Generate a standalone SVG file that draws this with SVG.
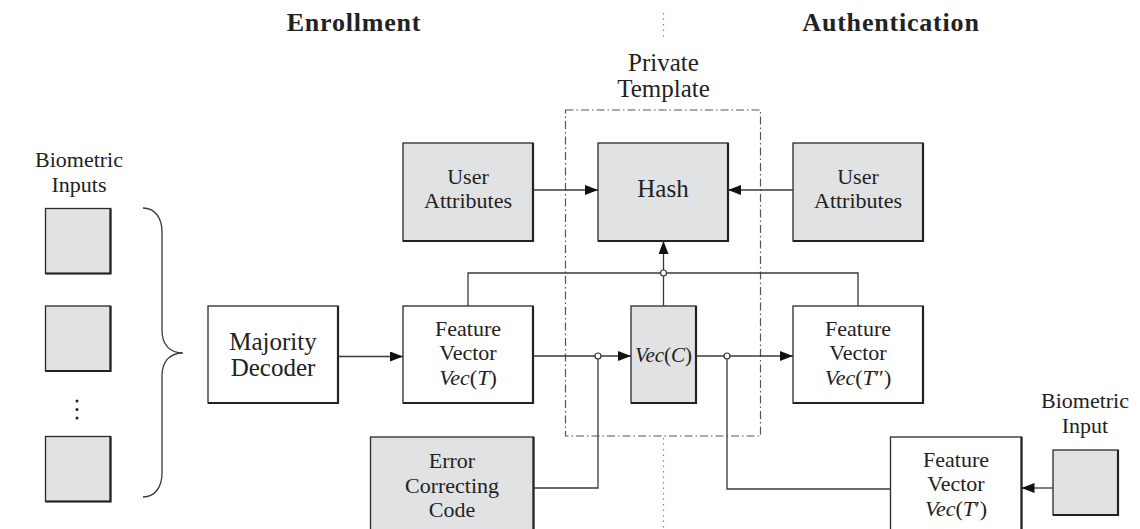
<svg xmlns="http://www.w3.org/2000/svg" width="1140" height="529" viewBox="0 0 1140 529">
<defs>
<marker id="arr" markerUnits="userSpaceOnUse" markerWidth="14" markerHeight="11" refX="13" refY="5" orient="auto"><path d="M0,0 L13,5 L0,10 z" fill="#111"/></marker>
</defs>
<style>
text {font-family:"Liberation Serif","DejaVu Serif",serif; fill:#222; text-anchor:middle}
.h {font-weight:bold; font-size:26px; letter-spacing:0.8px}
.t {font-size:22px}
.big {font-size:25px}
.hash {font-size:25px}
.box {stroke:#2a2a2a; stroke-width:1.3}
.sh {fill:none; stroke:#222; stroke-width:2.2}
.g {fill:#e1e2e4}
.w {fill:#fff}
.ln {stroke:#3a3a3a; stroke-width:1.3; fill:none}
.i {font-style:italic}
.jn {fill:#fff; stroke:#333; stroke-width:1.2}
</style>
<rect width="1140" height="529" fill="#fff"/>

<g id="headings">
<text class="h" x="354" y="31">Enrollment</text>
<text class="h" x="891" y="31">Authentication</text>
</g>

<g id="divider">
<line x1="663.5" y1="13" x2="663.5" y2="40" stroke="#888" stroke-width="1.2" stroke-dasharray="1.5,4"/>
<line x1="663.5" y1="438" x2="663.5" y2="529" stroke="#888" stroke-width="1.2" stroke-dasharray="1.5,4"/>
</g>

<g id="private-template">
<rect x="565.5" y="110" width="195" height="326" fill="none" stroke="#555" stroke-width="1.2" stroke-dasharray="8,3,1.5,3"/>
<text style="font-size:25px" x="663.5" y="71">Private</text>
<text style="font-size:25px" x="663.5" y="97">Template</text>
</g>

<g id="biometric-inputs">
<text class="t" x="79" y="167">Biometric</text>
<text class="t" x="79" y="192">Inputs</text>
<rect class="box g" x="45.5" y="208.5" width="65" height="65"/>
<path class="sh" d="M110.5,208.5 V273.5 H45.5"/>
<rect class="box g" x="45.5" y="306" width="65" height="65"/>
<path class="sh" d="M110.5,306 V371 H45.5"/>
<rect class="box g" x="45.5" y="436.5" width="65" height="65"/>
<path class="sh" d="M110.5,436.5 V501.5 H45.5"/>
<circle cx="77" cy="401" r="1.5" fill="#222"/>
<circle cx="77" cy="409.5" r="1.5" fill="#222"/>
<circle cx="77" cy="418" r="1.5" fill="#222"/>
<path class="ln" d="M143,208 C155,208 162,218 162,232 L162,330 C162,345 170,353 183,353 C170,353 162,361 162,376 L162,473 C162,487 155,497 143,497"/>
</g>

<g id="majority-decoder">
<rect class="box w" x="208" y="306" width="130" height="97"/>
<path class="sh" d="M338,306 V403 H208"/>
<text class="big" x="273" y="350">Majority</text>
<text class="big" x="273" y="376">Decoder</text>
</g>

<g id="user-attributes-enroll">
<rect class="box g" x="403" y="143" width="130" height="98"/>
<path class="sh" d="M533,143 V241 H403"/>
<text class="t" x="468" y="184">User</text>
<text class="t" x="468" y="208">Attributes</text>
</g>

<g id="hash">
<rect class="box g" x="598" y="143" width="130" height="98"/>
<path class="sh" d="M728,143 V241 H598"/>
<text class="hash" x="663" y="197">Hash</text>
</g>

<g id="user-attributes-auth">
<rect class="box g" x="793" y="143" width="130" height="98"/>
<path class="sh" d="M923,143 V241 H793"/>
<text class="t" x="858" y="184">User</text>
<text class="t" x="858" y="208">Attributes</text>
</g>

<g id="feature-vector-T">
<rect class="box w" x="403" y="306" width="130" height="97"/>
<path class="sh" d="M533,306 V403 H403"/>
<text class="t" x="468" y="336">Feature</text>
<text class="t" x="468" y="360">Vector</text>
<text class="t" x="468" y="385"><tspan class="i">Vec</tspan>(<tspan class="i">T</tspan>)</text>
</g>

<g id="vec-C">
<rect class="box g" x="631" y="306" width="65" height="97"/>
<path class="sh" d="M696,306 V403 H631"/>
<text style="font-size:21px" x="663.5" y="362"><tspan class="i">Vec</tspan>(<tspan class="i">C</tspan>)</text>
</g>

<g id="feature-vector-T2">
<rect class="box w" x="793" y="306" width="130" height="97"/>
<path class="sh" d="M923,306 V403 H793"/>
<text class="t" x="858" y="336">Feature</text>
<text class="t" x="858" y="360">Vector</text>
<text class="t" x="858" y="385"><tspan class="i">Vec</tspan>(<tspan class="i">T</tspan>″)</text>
</g>

<g id="error-correcting-code">
<rect class="box g" x="370.5" y="437" width="163" height="110"/>
<path class="sh" d="M533.5,437 V547"/>
<text class="t" x="452" y="468">Error</text>
<text class="t" x="452" y="493">Correcting</text>
<text class="t" x="452" y="517">Code</text>
</g>

<g id="feature-vector-T1">
<rect class="box w" x="890.5" y="437" width="131" height="110"/>
<path class="sh" d="M1021.5,437 V547"/>
<text class="t" x="956" y="467">Feature</text>
<text class="t" x="956" y="491">Vector</text>
<text class="t" x="956" y="516"><tspan class="i">Vec</tspan>(<tspan class="i">T</tspan>′)</text>
</g>

<g id="biometric-input">
<text class="t" x="1085" y="408">Biometric</text>
<text class="t" x="1085" y="433">Input</text>
<rect class="box g" x="1053" y="450" width="65" height="65"/>
<path class="sh" d="M1118,450 V515 H1053"/>
</g>

<g id="connectors">
<line class="ln" x1="533" y1="190" x2="598" y2="190" marker-end="url(#arr)"/>
<line class="ln" x1="793" y1="190" x2="728" y2="190" marker-end="url(#arr)"/>
<line class="ln" x1="663.5" y1="306" x2="663.5" y2="241" marker-end="url(#arr)"/>
<polyline class="ln" points="468,306 468,273 858,273 858,306"/>
<line class="ln" x1="338" y1="356.5" x2="403" y2="356.5" marker-end="url(#arr)"/>
<line class="ln" x1="533" y1="356" x2="631" y2="356" marker-end="url(#arr)"/>
<polyline class="ln" points="533.5,488 598,488 598,356"/>
<line class="ln" x1="696" y1="356" x2="793" y2="356" marker-end="url(#arr)"/>
<polyline class="ln" points="727,356 727,489 890.5,489"/>
<line class="ln" x1="1053" y1="488" x2="1021.5" y2="488" marker-end="url(#arr)"/>
<circle class="jn" cx="663.5" cy="273" r="3"/>
<circle class="jn" cx="598" cy="356" r="3"/>
<circle class="jn" cx="727" cy="356" r="3"/>
</g>
</svg>
